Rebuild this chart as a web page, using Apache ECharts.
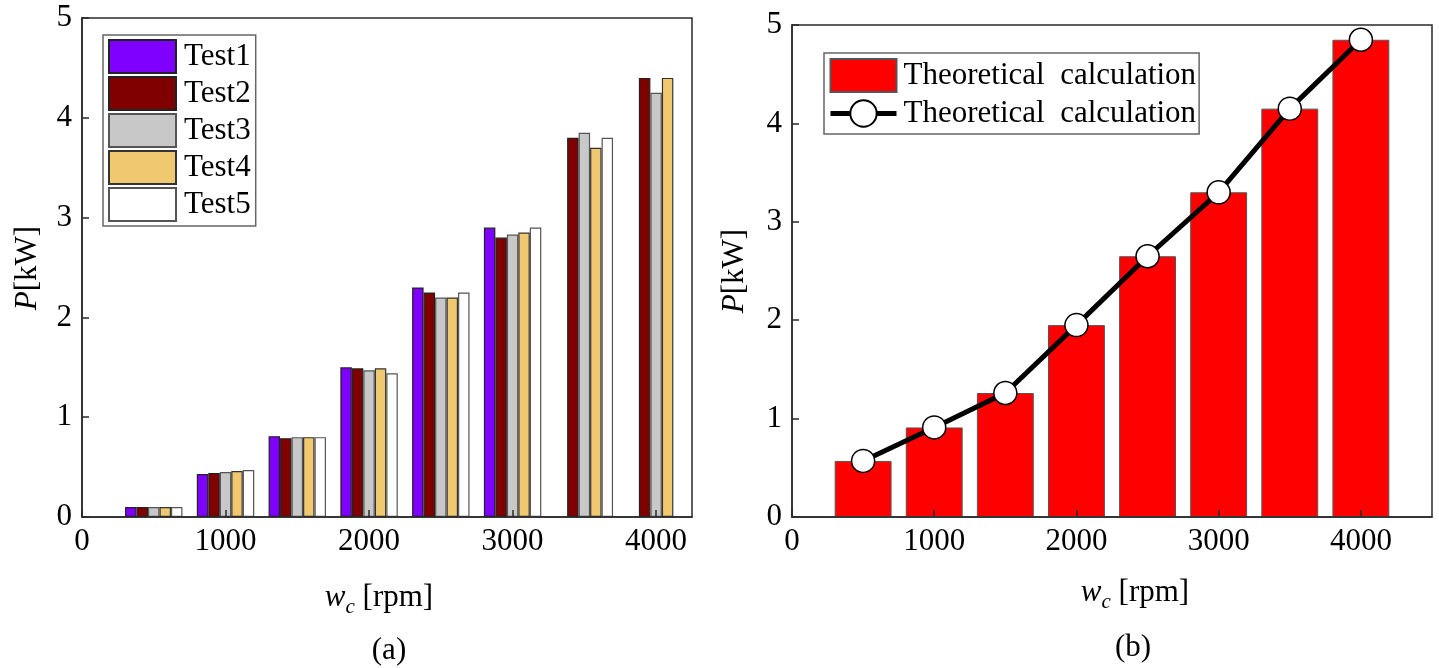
<!DOCTYPE html>
<html>
<head>
<meta charset="utf-8">
<script src="https://cdn.jsdelivr.net/npm/echarts@6/dist/echarts.min.js"></script>
<style>
  html, body { margin: 0; padding: 0; background: #fff; }
  #chart { width: 1439px; height: 668px; }
</style>
</head>
<body>
<div id="chart"></div>
<script>
// Compressor speed (rpm) for each group of bars
const speeds = [500, 1000, 1500, 2000, 2500, 3000, 3500, 4000];

// Measured power P [kW] for each test run (null = not measured)
const testNames = ['Test1', 'Test2', 'Test3', 'Test4', 'Test5'];
const test1 = [0.10, 0.43, 0.81, 1.50, 2.30, 2.90, null, null];
const test2 = [0.10, 0.44, 0.79, 1.49, 2.25, 2.80, 3.80, 4.40];
const test3 = [0.10, 0.45, 0.80, 1.47, 2.20, 2.83, 3.85, 4.25];
const test4 = [0.10, 0.46, 0.80, 1.49, 2.20, 2.85, 3.70, 4.40];
const test5 = [0.10, 0.47, 0.80, 1.44, 2.25, 2.90, 3.80, null];

// Theoretical power P [kW]
const theory = [0.57, 0.91, 1.26, 1.95, 2.65, 3.30, 4.15, 4.85];
const theoryBarName = 'Theoretical calculation';
const theoryLineName = 'Theoretical calculation (curve)';
const theoryLabel = 'Theoretical  calculation';

// Axis tick labels
const xTicks = [0, 1000, 2000, 3000, 4000];
const yTicks = [0, 1, 2, 3, 4, 5];

const FONT = "'Liberation Serif', 'Times New Roman', serif";
const FS = 31;
const AX = '#2a2a2a';
const testColors = ['#8000ff', '#800000', '#c8c8c8', '#f0c870', '#ffffff'];
const testBorders = ['#222', '#222', '#555', '#333', '#555'];
const testData = [test1, test2, test3, test4, test5];

const pairs = arr => speeds.map((s, i) => [s, arr[i]]);
const plain = v => String(v);

function xAxisCfg(gridIndex, max) {
  return {
    type: 'value', gridIndex, min: 0, max, z: 5,
    axisLine: { show: true, lineStyle: { color: AX, width: 1.5 } },
    axisTick: { show: true, inside: true, length: 7, customValues: xTicks,
                lineStyle: { color: AX, width: 1.5 } },
    axisLabel: { customValues: xTicks, formatter: plain, margin: 9, fontSize: FS,
                 fontFamily: FONT, color: '#000' },
    splitLine: { show: false }
  };
}
function yAxisCfg(gridIndex) {
  return {
    type: 'value', gridIndex, min: 0, max: 5, interval: 1, z: 5,
    axisLine: { show: true, lineStyle: { color: AX, width: 1.5 } },
    axisTick: { show: true, inside: true, length: 7, customValues: yTicks,
                lineStyle: { color: AX, width: 1.5 } },
    axisLabel: { customValues: yTicks, formatter: plain, margin: 10, fontSize: FS,
                 fontFamily: FONT, color: '#000' },
    splitLine: { show: false }
  };
}

const series = testNames.map((name, k) => ({
  type: 'bar', name, xAxisIndex: 0, yAxisIndex: 0,
  data: pairs(testData[k]),
  barWidth: '16%', barGap: '0%',
  itemStyle: { color: testColors[k], borderColor: testBorders[k], borderWidth: 1.2 }
}));

series.push({
  type: 'bar', name: theoryBarName, xAxisIndex: 1, yAxisIndex: 1,
  data: pairs(theory), barWidth: '80%',
  itemStyle: { color: '#ff0000', borderColor: '#555', borderWidth: 1 }
});
series.push({
  type: 'line', name: theoryLineName, xAxisIndex: 1, yAxisIndex: 1,
  data: pairs(theory), z: 4,
  symbol: 'circle', symbolSize: 23,
  lineStyle: { color: '#000', width: 5 },
  itemStyle: { color: '#fff', borderColor: '#000', borderWidth: 1.5 }
});

const titleFont = { fontSize: FS, fontFamily: FONT, fill: '#000' };
function text(x, y, str, rich, rotation) {
  return {
    type: 'text', x, y, rotation: rotation || 0, z: 10,
    style: Object.assign({ text: str, rich, align: 'center', verticalAlign: 'middle' }, titleFont)
  };
}
const richAxis = {
  i: { fontStyle: 'italic', fontSize: FS, fontFamily: FONT },
  s: { fontStyle: 'italic', fontSize: 21, fontFamily: FONT, padding: [18, 0, 0, 0] },
  n: { fontSize: FS, fontFamily: FONT }
};

const option = {
  backgroundColor: '#fff',
  animation: false,
  grid: [
    { left: 82, top: 18, width: 610, height: 499, show: true, borderColor: AX, borderWidth: 1.5 },
    { left: 792, top: 25, width: 640, height: 492, show: true, borderColor: AX, borderWidth: 1.5 }
  ],
  xAxis: [xAxisCfg(0, 4250), xAxisCfg(1, 4500)],
  yAxis: [yAxisCfg(0), yAxisCfg(1)],
  legend: [
    {
      data: testNames, orient: 'vertical', left: 103, top: 35,
      itemWidth: 67, itemHeight: 33, itemGap: 2, icon: 'rect',
      padding: [4, 5, 4, 5], borderColor: '#666', borderWidth: 1.5,
      textStyle: { fontSize: FS, lineHeight: 33, fontFamily: FONT, color: '#000', padding: [0, 0, 0, 3] }
    },
    {
      data: [{ name: theoryBarName, icon: 'rect' }, { name: theoryLineName }],
      orient: 'vertical', left: 824, top: 53,
      itemWidth: 66, itemHeight: 33, itemGap: 4,
      padding: [5, 3, 4, 4], borderColor: '#666', borderWidth: 1.5,
      lineStyle: { width: 5 },
      formatter: () => theoryLabel,
      textStyle: { fontSize: FS, lineHeight: 33, fontFamily: FONT, color: '#000', padding: [0, 0, 0, 2] }
    }
  ],
  graphic: [
    text(28, 268, '{i|P}{n|[kW]}', richAxis, Math.PI / 2),
    text(735, 271, '{i|P}{n|[kW]}', richAxis, Math.PI / 2),
    text(379, 598, '{i|w}{s|c}{n| [rpm]}', richAxis),
    text(1135, 593, '{i|w}{s|c}{n| [rpm]}', richAxis),
    text(389, 651, '(a)', null),
    text(1133, 648, '(b)', null)
  ],
  series
};

const chart = echarts.init(document.getElementById('chart'), null, { renderer: 'canvas' });
chart.setOption(option);
</script>
</body>
</html>
